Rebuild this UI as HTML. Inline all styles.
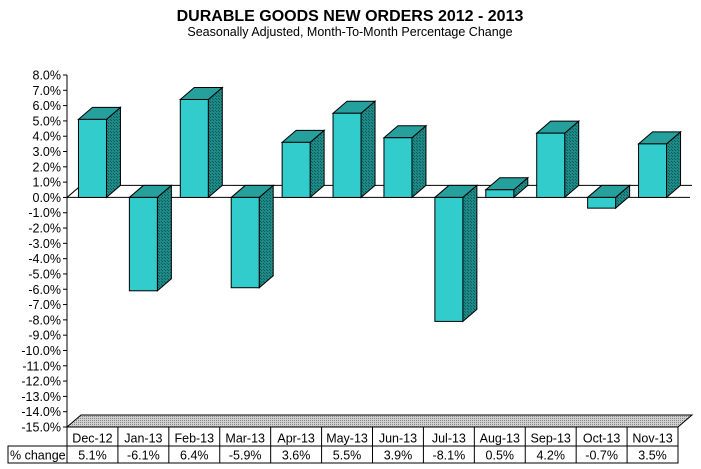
<!DOCTYPE html>
<html><head><meta charset="utf-8"><style>
body{margin:0;background:#fff;}
svg{display:block;font-family:"Liberation Sans",Arial,sans-serif;}
</style></head><body>
<svg id="chart" width="701" height="469" viewBox="0 0 701 469">
<defs>
<pattern id="hatch" width="3" height="3" patternUnits="userSpaceOnUse"><rect width="3" height="3" fill="#1e8a88"/><rect width="1" height="1" fill="#0e5a58"/><rect x="2" y="2" width="1" height="1" fill="#0e5a58"/></pattern>
<pattern id="floorpat" width="2" height="2" patternUnits="userSpaceOnUse"><rect width="2" height="2" fill="#d0d0d0"/><rect width="1" height="1" fill="#888"/></pattern>
</defs>
<text x="350" y="21" text-anchor="middle" font-weight="bold" font-size="16">DURABLE GOODS NEW ORDERS 2012 - 2013</text>
<text x="350" y="36" text-anchor="middle" font-size="12.5">Seasonally Adjusted,  Month-To-Month Percentage Change</text>
<g id="g"></g>
</svg>
<script>
const categories=["Dec-12","Jan-13","Feb-13","Mar-13","Apr-13","May-13","Jun-13","Jul-13","Aug-13","Sep-13","Oct-13","Nov-13"];
const values=[5.1,-6.1,6.4,-5.9,3.6,5.5,3.9,-8.1,0.5,4.2,-0.7,3.5];
const labels=["5.1%","-6.1%","6.4%","-5.9%","3.6%","5.5%","3.9%","-8.1%","0.5%","4.2%","-0.7%","3.5%"];
const ticks=[8,7,6,5,4,3,2,1,0,-1,-2,-3,-4,-5,-6,-7,-8,-9,-10,-11,-12,-13,-14,-15];
const NS="http://www.w3.org/2000/svg";
const g=document.getElementById('g');
const X0=67,X1=678,DX=14,DY=12,YMAX=8,YMIN=-15,YT=75,YB=427;
const cw=(X1-X0)/categories.length;
function y(v){return YT+(YMAX-v)*(YB-YT)/(YMAX-YMIN);}
function xc(i){return X0+cw*(i+0.5);}
function mk(tag,at,name){const e=document.createElementNS(NS,tag);for(const k in at)e.setAttribute(k,at[k]);


g.appendChild(e);return e;}
mk('polygon',{points:`${X0},${YB} ${X1},${YB} ${X1+DX},${YB-DY} ${X0+DX},${YB-DY}`,fill:'url(#floorpat)',stroke:'#000','stroke-width':1},'chart-floor');
mk('line',{x1:X0,y1:YT,x2:X0,y2:YB,stroke:'#000'},'y-axis');
ticks.forEach(t=>{const yy=y(t);
mk('line',{x1:X0-4,y1:yy,x2:X0,y2:yy,stroke:'#000'},'y-tick');
const tx=mk('text',{x:X0-6,y:yy+4.5,'text-anchor':'end','font-size':12.5},'y-tick-label');tx.textContent=t.toFixed(1)+'%';});
const y0=y(0);
mk('line',{x1:X0+DX,y1:y0-DY,x2:X1+DX,y2:y0-DY,stroke:'#000'},'zero-line-back');
mk('line',{x1:X0+DX,y1:y0-DY,x2:X0,y2:y0,stroke:'#000'},'zero-line-edge');
mk('line',{x1:X0,y1:y0,x2:X1+DX-2,y2:y0,stroke:'#000'},'zero-line');
const bw=28;
values.forEach((v,i)=>{
 const xl=xc(i)-bw/2,xr=xl+bw;const yt=y(Math.max(v,0)),yb=y(Math.min(v,0));
 mk('polygon',{points:`${xr},${yt} ${xr+DX},${yt-DY} ${xr+DX},${yb-DY} ${xr},${yb}`,fill:'url(#hatch)',stroke:'#000'},'bar-side-'+categories[i]);
 mk('polygon',{points:`${xl},${yt} ${xl+DX},${yt-DY} ${xr+DX},${yt-DY} ${xr},${yt}`,fill:'#26a09d',stroke:'#000'},'bar-top-'+categories[i]);
 mk('rect',{x:xl,y:yt,width:bw,height:yb-yt,fill:'#33CCCC',stroke:'#000'},'bar-'+categories[i]);
});
const r1=YB,r2=446,r3=463;
mk('rect',{x:8,y:r2,width:X1-8,height:r3-r2,fill:'none',stroke:'#000'},'table-row');
mk('line',{x1:X0,y1:r1,x2:X1,y2:r1,stroke:'#000'},'table-top');
mk('line',{x1:X1,y1:r1,x2:X1,y2:r2,stroke:'#000'},'table-right');
const lt=mk('text',{x:10,y:r3-3.5,'font-size':12.5},'row-label');lt.textContent='% change';
categories.forEach((c,i)=>{const xx=X0+cw*i;
 mk('line',{x1:xx,y1:r1,x2:xx,y2:r3,stroke:'#000'},'table-divider');
 const t=mk('text',{x:xc(i),y:r2-3.5,'text-anchor':'middle','font-size':12.5},'category-label');t.textContent=c;
 const t2=mk('text',{x:xc(i),y:r3-3.5,'text-anchor':'middle','font-size':12.5},'value-label');t2.textContent=labels[i];});
</script>
</body></html>
